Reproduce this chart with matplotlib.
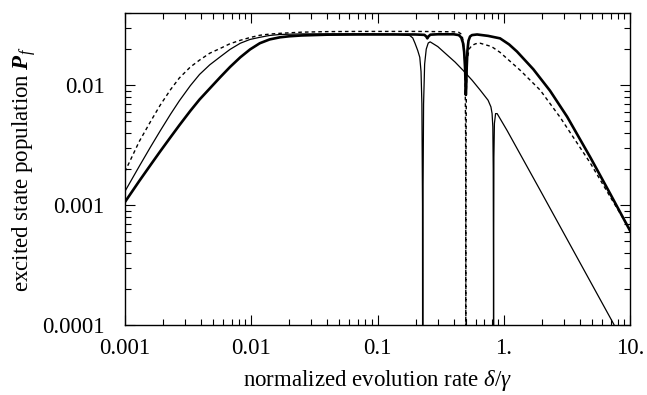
import matplotlib
matplotlib.use("Agg")
import matplotlib.pyplot as plt
from matplotlib.ticker import LogLocator, NullFormatter, FixedLocator, FixedFormatter

plt.rcParams['font.family'] = ['Liberation Serif', 'DejaVu Serif']
plt.rcParams['mathtext.fontset'] = 'custom'
plt.rcParams['mathtext.rm'] = 'Liberation Serif'
plt.rcParams['mathtext.it'] = 'Liberation Serif:italic'
plt.rcParams['mathtext.bf'] = 'Liberation Serif:bold'
plt.rcParams['mathtext.bfit'] = 'Liberation Serif:bold:italic'

# thick solid curve
thick_x = [0.001, 0.0013, 0.0016, 0.0019, 0.0023, 0.0027, 0.0033, 0.0039, 0.0047, 0.0057, 0.0068,
           0.0082, 0.0098, 0.0117, 0.014, 0.0169, 0.02, 0.025,
           0.04, 0.07, 0.12, 0.2, 0.235, 0.243, 0.248, 0.253, 0.262, 0.3, 0.4, 0.44,
           0.46, 0.475, 0.485, 0.493, 0.498, 0.5, 0.503, 0.508, 0.515, 0.525, 0.54,
           0.56, 0.614, 0.75, 0.933, 1.1, 1.27, 1.71, 2.32, 3.17, 4.84, 6.96, 10]
thick_y = [0.00106, 0.00159, 0.00217, 0.0028, 0.00369, 0.00464, 0.00612, 0.0076, 0.0094, 0.0117, 0.0142,
           0.0171, 0.0199, 0.0224, 0.0241, 0.0251, 0.0256, 0.0260,
           0.0264, 0.0265, 0.0265, 0.0265, 0.0263, 0.0255, 0.0246, 0.0255, 0.0264, 0.0266, 0.0266, 0.0262,
           0.0250, 0.0225, 0.0190, 0.0140, 0.0100, 0.0083, 0.0095, 0.0140, 0.0195, 0.0235, 0.0255,
           0.0262, 0.0265, 0.0258, 0.0246, 0.0219, 0.0191, 0.0136, 0.0090, 0.00546, 0.00250, 0.00124, 0.00061]

# thin solid curve
thin_x = [0.001, 0.0013, 0.0016, 0.0019, 0.0023, 0.0027, 0.0033, 0.0039, 0.0047, 0.0057, 0.0068,
          0.0082, 0.0098, 0.0117, 0.014, 0.0169, 0.025,
          0.04, 0.08, 0.14, 0.18, 0.19, 0.198, 0.208, 0.216, 0.221, 0.2245, 0.227, 0.228,
          0.229, 0.2315, 0.236, 0.243, 0.252, 0.261, 0.3, 0.343, 0.411, 0.476, 0.561, 0.65,
          0.75, 0.79, 0.807, 0.818, 0.824, 0.8275, 0.829, 0.8305, 0.834, 0.842, 0.86, 0.885,
          1.06, 1.94, 7.33, 10]
thin_y = [0.0013, 0.00211, 0.00307, 0.00415, 0.00574, 0.00742, 0.00993, 0.0123, 0.0148, 0.0173, 0.0199,
          0.0224, 0.0241, 0.0251, 0.0260, 0.0265, 0.0268,
          0.0268, 0.0268, 0.0266, 0.0260, 0.0248, 0.0224, 0.0195, 0.0171, 0.0130, 0.0070, 0.0010, 1e-6,
          0.0010, 0.0070, 0.0150, 0.0200, 0.0225, 0.0230, 0.0210, 0.0185, 0.0156, 0.0133, 0.0110, 0.0091,
          0.0075, 0.0066, 0.0058, 0.0045, 0.0020, 0.0003, 1e-6, 0.0003, 0.0025, 0.0048, 0.0058, 0.0058,
          0.0042, 0.00133, 0.000104, 0.000055]

# dashed curve
dash_x = [0.001, 0.0013, 0.0016, 0.0019, 0.0023, 0.0027, 0.0033, 0.0039, 0.0047, 0.0057, 0.0068,
          0.0082, 0.0098, 0.0117, 0.014, 0.0169, 0.025,
          0.04, 0.07, 0.12, 0.2, 0.3, 0.4, 0.44, 0.465, 0.48, 0.49, 0.495, 0.498, 0.4995,
          0.5, 0.5005, 0.502, 0.505, 0.512, 0.53, 0.56, 0.6, 0.65, 0.8, 0.933, 1.35, 1.94, 2.79,
          4.84, 6.96, 10]
dash_y = [0.0019, 0.0034, 0.0050, 0.0068, 0.0092, 0.0115, 0.0142, 0.0162, 0.0185, 0.0203, 0.0222,
          0.0237, 0.0250, 0.0261, 0.0267, 0.0271, 0.0277,
          0.0280, 0.0281, 0.0281, 0.0281, 0.0280, 0.0279, 0.0276, 0.0265, 0.0225, 0.0160, 0.0090, 0.0040, 0.0008,
          1e-6, 0.0008, 0.0040, 0.0090, 0.0160, 0.0200, 0.0215, 0.0222, 0.0224, 0.0210, 0.0188, 0.0133, 0.0091, 0.0054,
          0.00224, 0.00117, 0.00062]

x_ticks = [0.001, 0.01, 0.1, 1, 10]
x_labels = ["0.001", "0.01", "0.1", "1.", "10."]
y_ticks = [0.0001, 0.001, 0.01]
y_labels = ["0.0001", "0.001", "0.01"]

FS = 16.5

fig = plt.figure(figsize=(6.47, 3.95), dpi=100)
ax = fig.add_axes([0.193, 0.177, 0.781, 0.790])

ax.plot(thick_x, thick_y, color='black', lw=1.9, solid_joinstyle='round')
ax.plot(thin_x, thin_y, color='black', lw=0.9)
ax.plot(dash_x, dash_y, color='black', lw=1.0, linestyle=(0, (2.6, 2.2)))

ax.set_xscale('log')
ax.set_yscale('log')
ax.set_xlim(0.001, 10)
ax.set_ylim(0.0001, 0.04)

ax.xaxis.set_major_locator(FixedLocator(x_ticks))
ax.xaxis.set_major_formatter(FixedFormatter(x_labels))
ax.yaxis.set_major_locator(FixedLocator(y_ticks))
ax.yaxis.set_major_formatter(FixedFormatter(y_labels))
ax.xaxis.set_minor_locator(LogLocator(base=10, subs=range(2, 10), numticks=20))
ax.yaxis.set_minor_locator(LogLocator(base=10, subs=range(2, 10), numticks=20))
ax.xaxis.set_minor_formatter(NullFormatter())
ax.yaxis.set_minor_formatter(NullFormatter())

ax.tick_params(which='both', direction='in', top=True, right=True, width=0.8, labelsize=FS)
ax.tick_params(which='major', length=7)
ax.tick_params(axis='x', which='major', pad=9)
ax.tick_params(axis='y', which='major', pad=14.5)
ax.tick_params(which='minor', length=4)
for s in ax.spines.values():
    s.set_linewidth(1.0)

ax.set_xlabel(r"normalized evolution rate $\delta/\gamma$", fontsize=FS, labelpad=7)
ax.set_ylabel(r"excited state population $\mathbfit{P}_{\mathit{f}}$", fontsize=FS, labelpad=3)

fig.savefig("out.png", dpi=100)
